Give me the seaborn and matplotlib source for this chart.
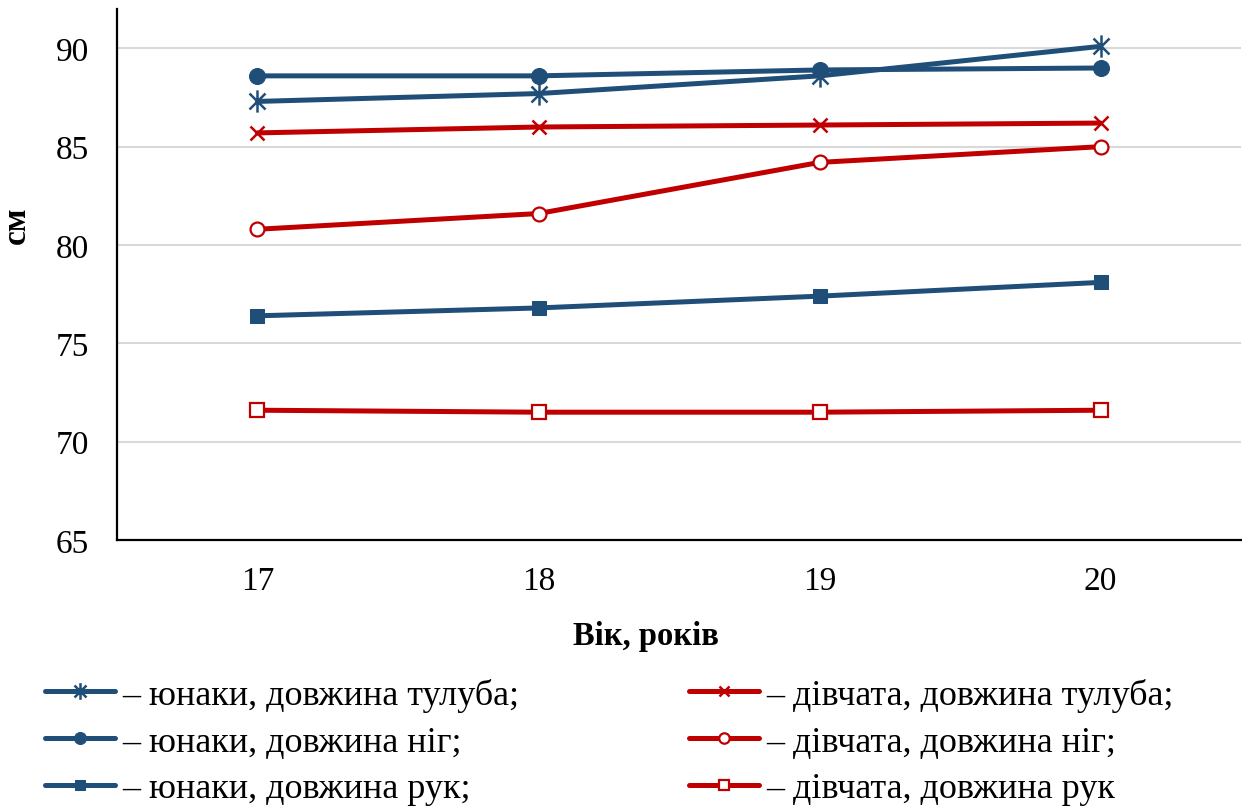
import matplotlib
matplotlib.use("Agg")
import matplotlib.pyplot as plt
from matplotlib.path import Path
import seaborn as sns
import pandas as pd

# Вік (років)
ages = [17, 18, 19, 20]

# Юнаки
boys_torso = [87.3, 87.7, 88.6, 90.1]
boys_legs = [88.6, 88.6, 88.9, 89.0]
boys_arms = [76.4, 76.8, 77.4, 78.1]

# Дівчата
girls_torso = [85.7, 86.0, 86.1, 86.2]
girls_legs = [80.8, 81.6, 84.2, 85.0]
girls_arms = [71.6, 71.5, 71.5, 71.6]

labels = [
    "– юнаки, довжина тулуба;",
    "– юнаки, довжина ніг;",
    "– юнаки, довжина рук;",
    "– дівчата, довжина тулуба;",
    "– дівчата, довжина ніг;",
    "– дівчата, довжина рук",
]
y_ticks = [65, 70, 75, 80, 85, 90]

BLUE = "#1F4E79"
RED = "#C00000"

# star marker: vertical stroke crossed by an X
d = 0.72
star = Path(
    [(0, -1), (0, 1), (-d, -d), (d, d), (-d, d), (d, -d)],
    [Path.MOVETO, Path.LINETO, Path.MOVETO, Path.LINETO, Path.MOVETO, Path.LINETO],
)

sns.set_theme(style="white")
plt.rcParams["font.family"] = ["Liberation Serif", "DejaVu Serif"]
plt.rcParams["text.color"] = "black"
plt.rcParams["axes.labelcolor"] = "black"

fig = plt.figure(figsize=(12.42, 8.12), dpi=100)
ax = fig.add_axes([0.0942, 0.3337, 0.9050, 0.6540])

series = [boys_torso, boys_legs, boys_arms, girls_torso, girls_legs, girls_arms]
styles = [
    dict(color=BLUE, marker=star, markersize=16, markeredgewidth=1.8,
         markeredgecolor=BLUE, markerfacecolor="none"),
    dict(color=BLUE, marker="o", markersize=11.5, markeredgecolor=BLUE,
         markerfacecolor=BLUE),
    dict(color=BLUE, marker="s", markersize=10.5, markeredgecolor=BLUE,
         markerfacecolor=BLUE),
    dict(color=RED, marker="x", markersize=10, markeredgewidth=1.8,
         markeredgecolor=RED),
    dict(color=RED, marker="o", markersize=10, markeredgewidth=1.6,
         markeredgecolor=RED, markerfacecolor="white"),
    dict(color=RED, marker="s", markersize=9.5, markeredgewidth=1.6,
         markeredgecolor=RED, markerfacecolor="white"),
]

for vals, lab, st in zip(series, labels, styles):
    df = pd.DataFrame({"age": ages, "value": vals})
    sns.lineplot(data=df, x="age", y="value", ax=ax, label=lab,
                 linewidth=3.6, solid_capstyle="round", legend=False, **st)

ax.set_xlim(16.5, 20.5)
ax.set_ylim(65, 92)
ax.set_xticks(ages)
ax.set_xticklabels([str(a) for a in ages])
ax.set_yticks(y_ticks)
ax.tick_params(axis="both", labelsize=24, length=0, colors="black")
ax.tick_params(axis="y", pad=20)
ax.tick_params(axis="x", pad=18)
ax.yaxis.grid(True, color="#D9D9D9", linewidth=1.5)
ax.set_axisbelow(True)

for side in ("top", "right"):
    ax.spines[side].set_visible(False)
for side in ("left", "bottom"):
    ax.spines[side].set_color("black")
    ax.spines[side].set_linewidth(1.6)

ax.set_xlabel("Вік, років", fontsize=23.5, fontweight="bold")
ax.set_ylabel("см", fontsize=24, fontweight="bold")
ax.xaxis.set_label_coords(0.4706, -0.150)
ax.yaxis.set_label_coords(-0.076, 0.595)

handles, labs = ax.get_legend_handles_labels()
fig.legend(handles, labs, ncol=2, loc="upper left",
           bbox_to_anchor=(0.0362, 0.1638), frameon=False, fontsize=26,
           borderaxespad=0, borderpad=0,
           handlelength=1.94, handletextpad=0.2, columnspacing=4.71,
           labelspacing=0.37, markerscale=0.75)

fig.savefig("out.png", dpi=100)
